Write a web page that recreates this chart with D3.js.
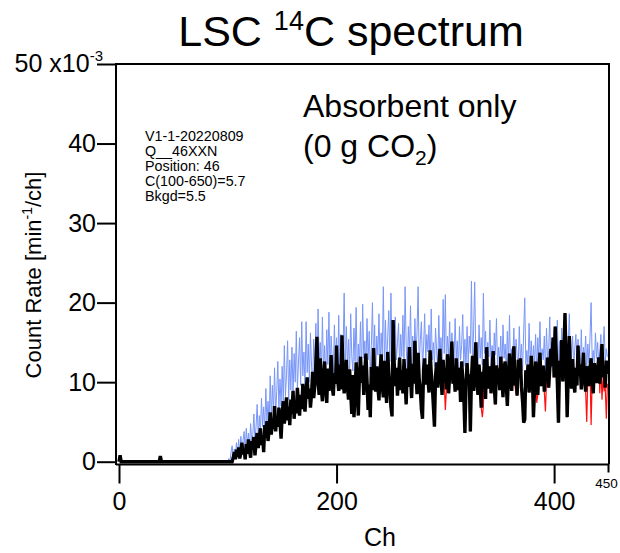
<!DOCTYPE html>
<html>
<head>
<meta charset="utf-8">
<script src="https://cdn.jsdelivr.net/npm/d3@7"></script>
<style>
  body { margin: 0; background: #fff; }
  text { font-family: "Liberation Sans", Arial, Helvetica, sans-serif; fill: #000; }
</style>
</head>
<body>
<script>
// count rate per channel, units of 1e-3 min^-1/ch
const blackStart = 0
const blackCounts = [
  0,0.8,0,0,0,0,0,0,0,0, 0,0,0,0,0,0,0,0,0,0, 0,0,0,0,0,0,0,0,0,0, 0,0,0,0,0,0,0,0,0.7,0,
  0,0,0,0,0,0,0,0,0,0, 0,0,0,0,0,0,0,0,0,0, 0,0,0,0,0,0,0,0,0,0, 0,0,0,0,0,0,0,0,0,0,
  0,0,0,0,0,0,0,0,0,0, 0,0,0,0,0,0,0,0,0,0,
  0,0,0,0,0,0.5,1.2,0.3,1.5,0.6, 1.8,0.4,1.1,2.4,0.9,1.6,0.3,2.2,1.0,2.8,
  1.4,0.5,2.6,1.9,3.1,0.8,2.4,3.6,1.7,2.9, 4.2,2.1,3.3,1.2,4.6,3.0,5.1,2.6,4.0,6.2,
  3.4,5.3,4.1,7.0,3.8,5.6,4.4,6.8,5.0,2.9, 5.9,7.6,4.8,6.3,8.1,5.2,6.9,4.6,7.8,6.0,
  8.9,5.4,7.2,6.1,9.3,7.0,5.8,8.4,6.6,9.8, 7.4,6.3,8.8,10.6,7.9,9.2,6.8,8.5,11.3,8.0,
  9.6,12.4,15.7,10.1,8.4,13.0,9.2,7.6,10.8,12.6, 9.0,7.4,11.7,8.9,10.2,13.4,9.5,8.3,11.1,9.8,
  14.6,10.4,8.9,12.2,9.1,15.9,11.0,8.6,10.3,12.8, 9.4,7.8,11.6,8.7,6.0,10.9,5.6,8.2,12.5,9.6,
  5.8,10.7,13.2,9.9,12.1,8.4,11.4,13.6,10.2,6.5, 9.7,5.6,11.9,9.0,14.3,10.5,8.8,12.0,9.3,7.7,
  11.2,13.5,9.6,8.1,12.7,10.0,7.4,13.8,11.1,9.2, 6.9,5.7,17.8,12.4,9.5,11.8,8.3,10.7,13.1,9.0,
  11.5,8.6,12.9,10.1,7.2,11.7,9.4,14.4,10.6,8.0, 12.3,9.8,15.2,11.0,8.5,13.7,10.3,9.1,6.6,5.4,
  11.6,13.0,9.7,12.2,10.4,8.7,14.0,11.3,9.6,7.0, 4.4,10.8,12.5,9.3,11.9,14.2,10.6,8.4,12.8,10.0,
  11.7,9.1,13.5,8.6,10.9,12.3,15.1,9.8,11.4,8.8, 13.0,10.2,9.0,11.8,7.5,12.6,10.5,8.2,3.6,9.6,
  12.4,9.9,11.0,3.8,10.4,13.3,8.9,11.6,15.0,10.1, 8.4,12.2,9.7,6.8,11.3,10.0,12.9,7.9,14.4,9.2,
  10.8,12.0,8.6,11.5,13.9,9.4,7.2,12.1,10.3,11.7, 9.0,13.2,10.6,8.1,11.8,12.6,9.8,7.0,11.0,13.6,
  10.2,8.9,12.4,14.5,9.6,11.2,8.3,12.8,10.7,13.0, 9.4,7.6,4.9,5.3,11.5,9.9,12.2,8.7,10.4,13.3,
  11.1,5.6,9.0,12.6,10.2,8.4,11.8,13.7,9.5,10.9, 12.1,8.8,11.4,10.0,13.1,9.3,11.7,14.2,12.0,15.6,
  10.6,17.0,13.4,9.8,4.9,12.7,11.2,15.3,10.1,13.8, 18.7,12.5,5.6,10.9,15.8,11.4,9.2,12.9,10.3,8.7,
  11.8,9.6,14.6,10.8,12.2,9.1,11.5,13.7,10.4,8.8, 12.0,10.7,9.5,11.9,13.0,10.2,8.6,12.4,11.1,9.9,
  11.4,13.1,9.8,12.5,14.8,10.6,11.9,9.3,12.7,11.0
]

const blueStart = 100
const blueCounts = [
  0,0.4,0,1.2,2.0,0.5,1.6,0.8,2.4,1.0, 2.8,0.9,3.2,1.4,2.6,3.8,1.2,4.2,2.0,3.6,
  1.8,4.8,2.5,3.4,6.0,2.6,4.4,7.2,3.0,5.8, 3.6,8.0,4.4,6.9,3.9,9.2,5.0,7.6,4.6,10.8,
  5.4,9.6,6.2,11.8,5.8,8.8,12.6,6.6,10.4,7.0, 12.0,7.4,14.6,8.2,11.0,15.2,7.8,12.8,9.0,14.4,
  8.4,13.6,10.0,16.4,9.2,12.4,15.6,9.6,17.6,10.8, 13.8,9.4,17.6,11.2,14.8,10.0,16.2,12.0,9.8,15.4,
  11.6,17.4,10.2,19.2,12.8,15.0,10.6,18.2,11.4,14.6, 10.4,16.6,12.2,18.8,10.8,15.8,13.0,11.0,17.2,12.4,
  15.6,11.2,18.4,10.6,16.0,12.8,14.2,21.2,11.8,17.0, 12.0,15.4,10.8,18.6,13.2,11.4,16.8,12.6,19.4,11.0,
  14.8,12.2,17.6,10.8,19.8,13.0,15.2,11.6,18.0,12.8, 16.4,11.2,14.6,20.0,12.4,17.2,10.9,15.8,13.4,18.6,
  11.8,16.2,13.0,22.0,12.2,17.8,11.4,15.6,19.0,12.6, 21.2,13.4,16.6,11.8,18.2,12.8,15.0,17.4,11.6,16.0,
  13.2,18.4,12.0,22.0,14.6,11.4,17.0,13.8,19.6,12.2, 15.8,11.6,18.0,13.2,16.4,22.0,12.0,15.2,17.6,11.8,
  14.4,18.6,12.6,16.0,13.8,17.2,11.2,19.2,12.8,15.0, 12.0,16.8,14.0,11.6,18.4,13.0,15.6,12.4,20.4,13.6,
  21.0,12.2,15.8,13.4,17.6,11.8,16.2,14.2,12.6,18.0, 13.0,15.2,11.4,17.0,12.8,14.6,18.5,12.0,15.4,11.6,
  17.0,12.4,15.8,13.6,22.7,12.0,16.6,22.6,13.2,15.0, 11.8,17.2,13.0,15.6,12.2,21.2,13.6,16.4,11.4,15.0,
  13.2,17.8,12.0,14.6,11.6,16.2,13.4,18.0,11.8,14.4, 12.6,15.8,11.2,17.2,13.0,14.8,11.6,16.4,12.4,18.4,
  11.0,14.2,12.8,16.8,11.6,15.4,13.2,12.0,17.0,12.6, 14.8,11.4,16.2,20.6,12.2,14.0,11.8,17.4,12.6,15.2,
  11.6,14.6,12.2,16.0,11.0,15.6,13.0,17.6,12.0,14.2, 12.8,15.8,11.4,16.8,12.6,14.0,18.2,11.8,15.0,12.4,
  16.6,12.2,14.4,17.8,11.6,15.2,12.8,16.8,13.4,15.0, 12.0,16.4,11.2,14.8,18.6,12.4,13.6,15.8,11.8,14.2,
  16.0,12.6,15.4,13.2,11.4,16.6,12.0,14.4,13.0,15.8, 11.6,14.8,12.4,15.6,20.0,12.8,14.0,11.8,16.2,13.0,
  15.0,12.2,13.8,16.0,11.6,14.6,17.0,12.4,14.2,13.2
]

// red trace mostly sits under the black one, shows only in a few dips
const redStart = 296
const redCounts = [
  10.6,8.4,12.8,10.0,
  6.5,9.1,13.5,8.6,10.9,12.3,15.1,9.8,11.4,8.8, 13.0,10.2,9.0,11.8,7.5,12.6,10.5,8.2,3.6,9.6,
  12.4,9.9,11.0,3.8,10.4,13.3,8.9,11.6,15.0,10.1, 8.4,12.2,9.7,6.8,5.6,7.0,12.9,7.9,14.4,9.2,
  10.8,12.0,8.6,11.5,13.9,9.4,7.2,12.1,10.3,11.7, 9.0,13.2,10.6,8.1,11.8,12.6,9.8,7.0,11.0,13.6,
  10.2,8.9,12.4,14.5,9.6,8.6,8.3,12.8,10.7,13.0, 9.4,7.6,4.9,5.3,11.5,9.9,12.2,8.7,10.4,13.3,
  11.1,5.6,9.0,12.6,7.4,8.4,11.8,13.7,9.5,10.9, 12.1,8.8,6.3,10.0,13.1,9.3,11.7,14.2,12.0,15.6,
  10.6,17.0,13.4,9.8,4.9,12.7,11.2,15.3,10.1,13.8, 18.7,12.5,5.6,10.9,15.8,11.4,9.2,12.9,10.3,8.7,
  11.8,9.6,14.6,10.8,12.2,9.1,11.5,13.7,10.4,8.8, 5.0,10.7,9.5,11.9,4.6,10.2,8.6,12.4,11.1,9.9,
  11.4,13.1,8.6,12.5,7.8,10.6,9.0,9.3,5.4,9.8
]

const yTicks = [0, 10, 20, 30, 40, 50]
const xTicks = [0, 200, 400]
const xEnd = 450

const toPoints = (start, arr) => arr.map((v, i) => ({ch: start + i, v: v}))

const W = 620, H = 553
const svg = d3.select('body').append('svg')
  .attr('width', W).attr('height', H)

const x = d3.scaleLinear().domain([0, xEnd]).range([119, 608.5])
const y = d3.scaleLinear().domain([0, 50]).range([461.7, 64])
const pLeft = 116, pTop = 64, pRight = 609, pBottom = 464.5

svg.append('defs').append('clipPath').attr('id', 'plot')
  .append('rect').attr('x', pLeft).attr('y', pTop).attr('width', pRight - pLeft).attr('height', pBottom - pTop)

const line = d3.line().x(d => x(d.ch)).y(d => y(d.v))
const plot = svg.append('g').attr('clip-path', 'url(#plot)')

plot.append('path').datum(toPoints(blueStart, blueCounts))
  .attr('d', line).attr('fill', 'none')
  .attr('stroke', '#7896f8').attr('stroke-width', 1)
plot.append('path').datum(toPoints(redStart, redCounts))
  .attr('d', line).attr('fill', 'none')
  .attr('stroke', '#ff1010').attr('stroke-width', 1.2)
plot.append('path').datum(toPoints(blackStart, blackCounts))
  .attr('d', line).attr('fill', 'none')
  .attr('stroke', '#000').attr('stroke-width', 3.4).attr('stroke-linejoin', 'miter')

// frame
svg.append('path')
  .attr('d', `M${pLeft},${pBottom}V${pTop}H${pRight}V${pBottom}`)
  .attr('fill', 'none').attr('stroke', '#000').attr('stroke-width', 2)

// y axis
const yAxis = svg.append('g').attr('transform', `translate(${pLeft},0)`)
  .call(d3.axisLeft(y).tickValues(yTicks).tickSize(19).tickSizeOuter(0).tickFormat(d => d === 50 ? '' : d))
yAxis.select('.domain').attr('d', `M0,${pTop}V${pBottom + 0.5}`).attr('stroke-width', 2)
yAxis.selectAll('.tick line').attr('stroke-width', 2)
yAxis.selectAll('.tick text').attr('font-size', 25).attr('font-family', null).attr('x', -20)

const lab50 = svg.append('text').attr('x', 103).attr('y', y(50) + 8)
  .attr('text-anchor', 'end').attr('font-size', 25)
lab50.append('tspan').text('50 x10')
lab50.append('tspan').attr('font-size', 15).attr('dy', -11).text('-3')

// x axis
const xAxis = svg.append('g').attr('transform', `translate(0,${pBottom})`)
  .call(d3.axisBottom(x).tickValues(xTicks).tickSize(19).tickSizeOuter(0).tickPadding(9))
xAxis.select('.domain').attr('d', `M${pLeft},0H${pRight}`).attr('stroke-width', 2)
xAxis.selectAll('.tick line').attr('stroke-width', 2)
xAxis.selectAll('.tick text').attr('font-size', 25).attr('font-family', null)

svg.append('line').attr('x1', x(xEnd)).attr('x2', x(xEnd))
  .attr('y1', pBottom).attr('y2', pBottom + 8).attr('stroke', '#000').attr('stroke-width', 2)
svg.append('text').attr('x', x(xEnd) - 2).attr('y', 488)
  .attr('text-anchor', 'middle').attr('font-size', 13.5).text(xEnd)

svg.append('text').attr('x', 380).attr('y', 546)
  .attr('text-anchor', 'middle').attr('font-size', 25).text('Ch')

const yl = svg.append('text').attr('transform', 'translate(41,275) rotate(-90)')
  .attr('text-anchor', 'middle').attr('font-size', 22)
yl.append('tspan').text('Count Rate [min')
yl.append('tspan').attr('font-size', 14).attr('dy', -9).text('-1')
yl.append('tspan').attr('dy', 9).text('/ch]')

// title
const title = svg.append('text').attr('x', 351).attr('y', 46)
  .attr('text-anchor', 'middle').attr('font-size', 43)
title.append('tspan').text('LSC ')
title.append('tspan').attr('font-size', 27).attr('dy', -16).text('14')
title.append('tspan').attr('dy', 16).text('C spectrum')

// sample label
const label = svg.append('text').attr('font-size', 32)
label.append('tspan').attr('x', 303).attr('y', 117).text('Absorbent only')
label.append('tspan').attr('x', 303).attr('y', 157).text('(0 g CO')
label.append('tspan').attr('font-size', 21).attr('dy', 8).text('2')
label.append('tspan').attr('dy', -8).text(')')

const notes = ['V1-1-20220809', 'Q__46XXN', 'Position: 46', 'C(100-650)=5.7', 'Bkgd=5.5']
svg.append('g').selectAll('text').data(notes).enter().append('text')
  .attr('x', 145).attr('y', (d, i) => 141 + i * 15)
  .attr('font-size', 14.3).text(d => d)
</script>
</body>
</html>
